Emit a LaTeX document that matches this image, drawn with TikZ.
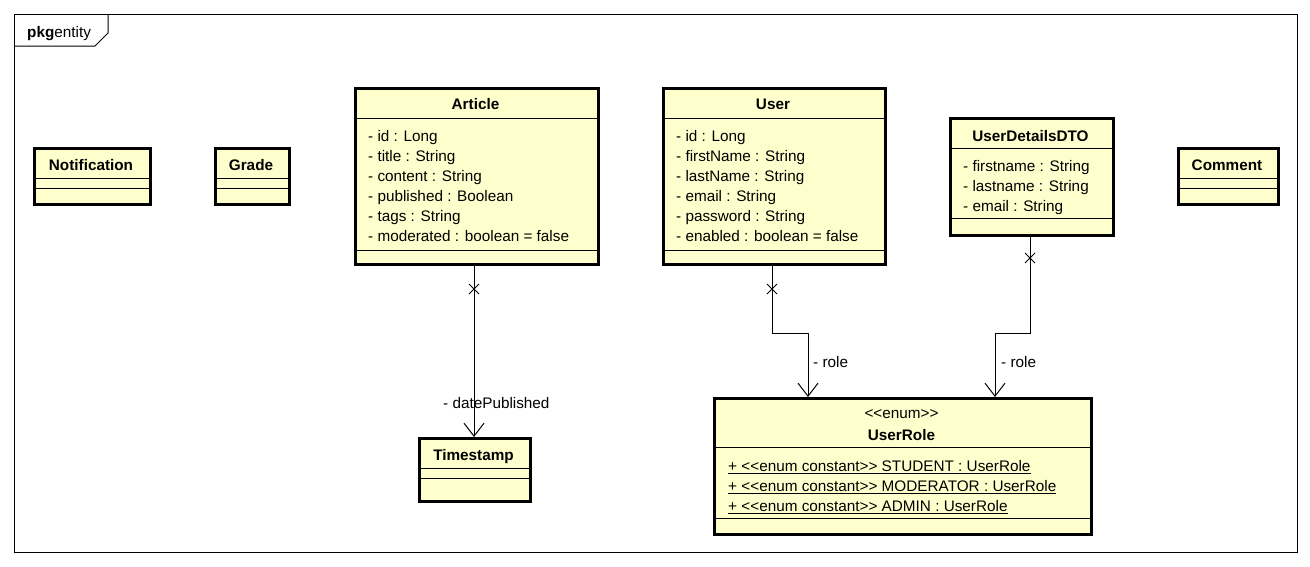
\documentclass[tikz,border=0pt]{standalone}
\usepackage{fontspec}
\setmainfont{Liberation Sans}
\usetikzlibrary{arrows.meta,shapes.misc,calc}
\definecolor{umlfill}{RGB}{255,255,206}
\newcommand\umlfont{\fontsize{15.3}{20}\selectfont}
\begin{document}
\begin{tikzpicture}[x=1pt,y=-1pt,
  cls/.style={draw, line width=3pt, fill=umlfill, rectangle, inner sep=0pt, anchor=north west},
  sep/.style={line width=1pt},
  ttl/.style={font=\umlfont\bfseries, inner sep=0pt, anchor=base},
  attr/.style={font=\umlfont, inner sep=0pt, anchor=base west},
  assoc/.style={line width=1pt, -{Straight Barb[length=13pt,width=20pt,line width=1pt]}},
  xmark/.style={cross out, draw, line width=1pt, minimum size=9pt, inner sep=0pt},
  lbl/.style={font=\umlfont, inner sep=0pt, anchor=base west}]
\useasboundingbox (0,0) rectangle (1310,566);
% package frame
\draw[line width=1pt] (14,14) rectangle (1297,552);
\draw[line width=1pt] (14,46) -- (95,46) -- (108,33) -- (108,14);
\node[attr] (pkg) at (27,37) {\textbf{pkg}entity};

% Notification
\node[cls, minimum width=116pt, minimum height=56pt] (notif) at (33,147) {};
\draw[sep] (notif.west |- 0,178) -- (notif.east |- 0,178);
\draw[sep] (notif.west |- 0,188) -- (notif.east |- 0,188);
\node[ttl] (notift) at (91,170) {Notification};

% Grade
\node[cls, minimum width=74pt, minimum height=56pt] (grade) at (214,147) {};
\draw[sep] (grade.west |- 0,178) -- (grade.east |- 0,178);
\draw[sep] (grade.west |- 0,188) -- (grade.east |- 0,188);
\node[ttl] (gradet) at (251,170) {Grade};

% Comment
\node[cls, minimum width=100pt, minimum height=56pt] (comment) at (1177,147) {};
\draw[sep] (comment.west |- 0,178) -- (comment.east |- 0,178);
\draw[sep] (comment.west |- 0,188) -- (comment.east |- 0,188);
\node[ttl] (commentt) at (1227,170) {Comment};

% Article
\node[cls, minimum width=243pt, minimum height=176pt] (article) at (354,87) {};
\draw[sep] (article.west |- 0,118) -- (article.east |- 0,118);
\draw[sep] (article.west |- 0,250) -- (article.east |- 0,250);
\node[ttl] (articlet) at (475.5,109) {Article};
\node[attr] (a1) at (368,141.5) {- id : Long};
\node[attr] (a2) at (368,161.5) {- title : String};
\node[attr] (a3) at (368,181.5) {- content : String};
\node[attr] (a4) at (368,201.5) {- published : Boolean};
\node[attr] (a5) at (368,221.5) {- tags : String};
\node[attr] (a6) at (368,241.5) {- moderated : boolean = false};

% User
\node[cls, minimum width=222pt, minimum height=176pt] (user) at (662,87) {};
\draw[sep] (user.west |- 0,118) -- (user.east |- 0,118);
\draw[sep] (user.west |- 0,250) -- (user.east |- 0,250);
\node[ttl] (usert) at (773,109) {User};
\node[attr] (u1) at (676,141.5) {- id : Long};
\node[attr] (u2) at (676,161.5) {- firstName : String};
\node[attr] (u3) at (676,181.5) {- lastName : String};
\node[attr] (u4) at (676,201.5) {- email : String};
\node[attr] (u5) at (676,221.5) {- password : String};
\node[attr] (u6) at (676,241.5) {- enabled : boolean = false};

% UserDetailsDTO
\node[cls, minimum width=163pt, minimum height=117pt] (dto) at (949,117) {};
\draw[sep] (dto.west |- 0,148) -- (dto.east |- 0,148);
\draw[sep] (dto.west |- 0,218) -- (dto.east |- 0,218);
\node[ttl] (dtot) at (1030.5,141.5) {UserDetailsDTO};
\node[attr] (d1) at (963,171.5) {- firstname : String};
\node[attr] (d2) at (963,191.5) {- lastname : String};
\node[attr] (d3) at (963,211.5) {- email : String};

% UserRole
\node[cls, minimum width=377pt, minimum height=136pt] (role) at (713,397) {};
\draw[sep] (role.west |- 0,447) -- (role.east |- 0,447);
\draw[sep] (role.west |- 0,518) -- (role.east |- 0,518);
\node[attr, anchor=base] (roles) at (901.5,418) {<{}<enum>{}>};
\node[ttl] (rolet) at (901.5,440) {UserRole};
\node[attr] (r1) at (728,471.5) {\underline{+ <{}<enum constant>{}> STUDENT : UserRole}};
\node[attr] (r2) at (728,491.5) {\underline{+ <{}<enum constant>{}> MODERATOR : UserRole}};
\node[attr] (r3) at (728,511.5) {\underline{+ <{}<enum constant>{}> ADMIN : UserRole}};

% Timestamp
\node[cls, minimum width=111pt, minimum height=63pt] (ts) at (418,437) {};
\draw[sep] (ts.west |- 0,468) -- (ts.east |- 0,468);
\draw[sep] (ts.west |- 0,478) -- (ts.east |- 0,478);
\node[ttl] (tst) at (473.5,460) {Timestamp};

% associations
\draw[assoc] ($(article.south west)+(120,0)$) -- ($(ts.north west)+(56,0)$);
\node[xmark] (xa) at (474,289) {};
\node[lbl] (la) at (443,408) {- datePublished};

\draw[assoc] ($(user.south west)+(110,0)$) -- ++(0,67) -| ($(role.north west)+(95,0)$);
\node[xmark] (xu) at (772,289) {};
\node[lbl] (lu) at (813,367) {- role};

\draw[assoc] ($(dto.south west)+(81,0)$) -- ++(0,96) -| ($(role.north west)+(282,0)$);
\node[xmark] (xd) at (1030,258) {};
\node[lbl] (ld) at (1001,367) {- role};
\end{tikzpicture}
\end{document}
